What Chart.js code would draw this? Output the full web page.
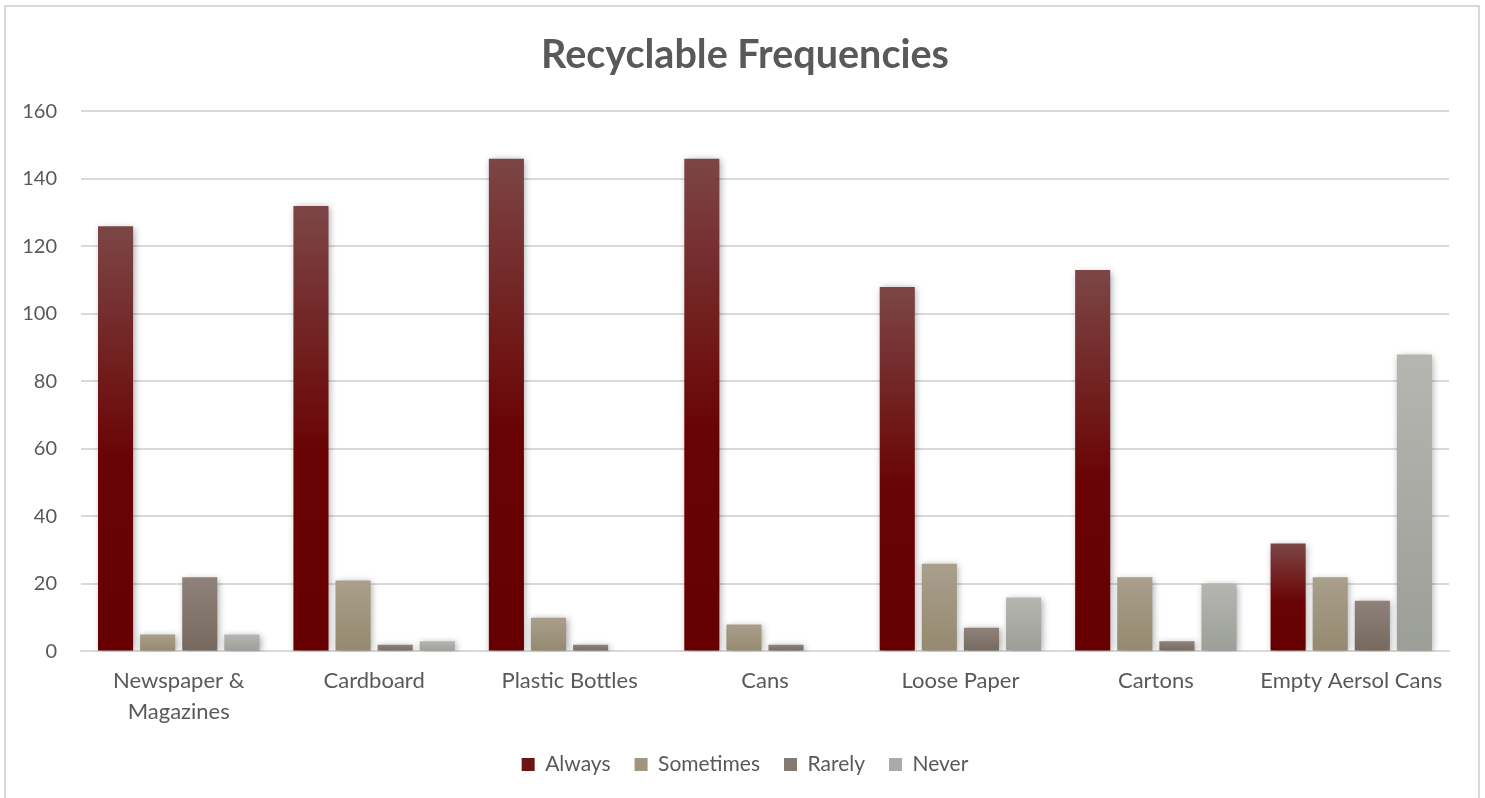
<!DOCTYPE html>
<html>
<head>
<meta charset="utf-8">
<script src="https://cdn.jsdelivr.net/npm/chart.js@4.4.1/dist/chart.umd.min.js"></script>
<style>
  html, body { margin: 0; padding: 0; background: #fff; }
  #frame {
    position: absolute;
    left: 4px;
    top: 5px;
    width: 1476px;
    height: 800px;
    border: 2px solid #d9d9d9;
    box-sizing: border-box;
  }
</style>
</head>
<body>
<div id="frame"><canvas id="chart" width="1472" height="796"></canvas></div>
<script>
// ---------- DATA ----------
const categories = [
  "Newspaper & Magazines",
  "Cardboard",
  "Plastic Bottles",
  "Cans",
  "Loose Paper",
  "Cartons",
  "Empty Aersol Cans",
];
const always = [126, 132, 146, 146, 108, 113, 32];
const sometimes = [5, 21, 10, 8, 26, 22, 22];
const rarely = [22, 2, 2, 2, 7, 3, 15];
const never = [5, 3, 0, 0, 16, 20, 88];
const yTicks = [0, 20, 40, 60, 80, 100, 120, 140, 160];

const textColor = "#595959";
const gridColor = "#d9d9d9";
const fontFamily = "Lato, 'Open Sans', sans-serif";

// gradient stops per series: [offset, color]
const styles = {
  Always: { legend: "#6e1414", stops: [[0, "#7c4646"], [0.55, "#6a0303"], [1, "#660000"]] },
  Sometimes: { legend: "#a0957e", stops: [[0, "#a99f8b"], [1, "#958970"]] },
  Rarely: { legend: "#85786f", stops: [[0, "#8f827a"], [1, "#75695f"]] },
  Never: { legend: "#aaaba6", stops: [[0, "#b5b6b1"], [1, "#9c9e98"]] },
};

// vertical gradient spanning each bar from its top down to the baseline
function barFill(name) {
  return (context) => {
    const chart = context.chart;
    const y = chart.scales.y;
    if (!y || context.raw == null) return styles[name].legend;
    const top = y.getPixelForValue(context.raw);
    const base = y.getPixelForValue(0);
    if (base - top < 1) return styles[name].stops[0][1];
    const g = chart.ctx.createLinearGradient(0, top, 0, base);
    styles[name].stops.forEach(([o, c]) => g.addColorStop(o, c));
    return g;
  };
}

function series(name, values) {
  return {
    label: name,
    data: values,
    backgroundColor: barFill(name),
    borderWidth: 0,
    categoryPercentage: 0.862,
    barPercentage: 0.833,
  };
}

// soft drop shadow under the bars
const barShadow = {
  id: "barShadow",
  beforeDatasetsDraw(chart) {
    const ctx = chart.ctx;
    ctx.save();
    ctx.shadowColor = "rgba(0,0,0,0.35)";
    ctx.shadowBlur = 7;
    ctx.shadowOffsetX = 1.5;
    ctx.shadowOffsetY = 1.5;
  },
  afterDatasetsDraw(chart) {
    chart.ctx.restore();
  },
};

const ctx = document.getElementById("chart").getContext("2d");

new Chart(ctx, {
  type: "bar",
  data: {
    labels: categories.map((c) => (c === "Newspaper & Magazines" ? ["Newspaper &", "Magazines"] : c)),
    datasets: [
      series("Always", always),
      series("Sometimes", sometimes),
      series("Rarely", rarely),
      series("Never", never),
    ],
  },
  plugins: [barShadow],
  options: {
    responsive: false,
    animation: false,
    layout: { padding: { left: 15, right: 9, top: 0, bottom: 18 } },
    plugins: {
      title: {
        display: true,
        text: "Recyclable Frequencies",
        color: textColor,
        font: { family: fontFamily, size: 39.5, weight: "bold" },
        padding: { top: 25, bottom: 32 },
      },
      legend: {
        position: "bottom",
        labels: {
          color: textColor,
          font: { family: fontFamily, size: 21 },
          boxWidth: 13,
          boxHeight: 13,
          padding: 24,
          generateLabels: (chart) =>
            chart.data.datasets.map((ds, i) => ({
              text: ds.label,
              fillStyle: styles[ds.label].legend,
              strokeStyle: styles[ds.label].legend,
              lineWidth: 0,
              fontColor: textColor,
              datasetIndex: i,
            })),
        },
      },
      tooltip: { enabled: false },
    },
    scales: {
      x: {
        grid: { display: false, drawTicks: false },
        border: { display: true, color: gridColor, width: 2 },
        ticks: {
          color: textColor,
          font: { family: fontFamily, size: 22, lineHeight: 1.4 },
          padding: 14,
          maxRotation: 0,
        },
        afterFit: (axis) => {
          axis.height -= 11;
        },
      },
      y: {
        min: 0,
        max: 160,
        afterBuildTicks: (axis) => {
          axis.ticks = yTicks.map((v) => ({ value: v }));
        },
        grid: { color: gridColor, lineWidth: 2, drawTicks: false },
        border: { display: false },
        ticks: {
          color: textColor,
          font: { family: fontFamily, size: 20 },
          padding: 24,
        },
        afterFit: (axis) => {
          axis.width = 60;
        },
      },
      // empty gutter on the right of the plot
      gutter: {
        type: "linear",
        position: "right",
        grid: { display: false, drawTicks: false },
        border: { display: false },
        ticks: { display: false },
        afterFit: (axis) => {
          axis.width = 20;
        },
      },
    },
  },
});
</script>
</body>
</html>
